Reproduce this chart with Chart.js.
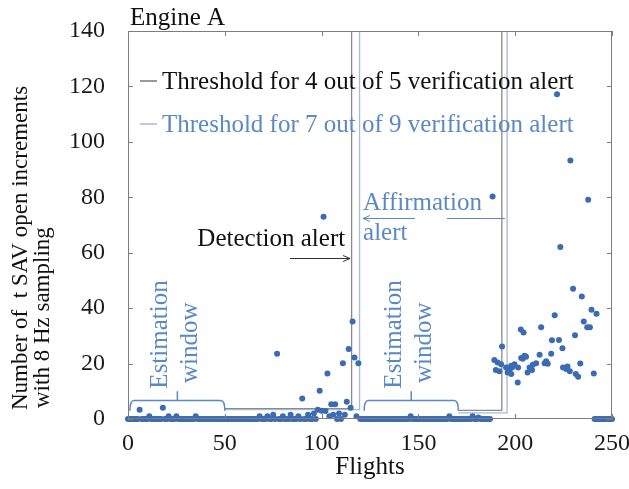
<!DOCTYPE html>
<html>
<head>
<meta charset="utf-8">
<script src="https://cdn.jsdelivr.net/npm/chart.js@4.4.0/dist/chart.umd.min.js"></script>
<style>
html,body{margin:0;padding:0;background:#fff;}
#wrap{width:629px;height:489px;}
</style>
</head>
<body>
<div id="wrap"><canvas id="c" width="629" height="489"></canvas></div>
<script>
// ---------------- data ----------------
const xAxisTitle = 'Flights';
const yAxisTitleLines = ['Number of  t SAV open increments', 'with 8 Hz sampling'];
const panelTitle = 'Engine A';
const xTickStep = 50;
const yTickStep = 20;
const xRange = [0, 250];
const yRange = [0, 140];

// counts for flights 0..187 (index = flight number)
const earlyCounts = [
  0,0,0,0,0,0,3.3,0,0,0,  0,1,0,0,0,0,0,0,4.1,0,
  0,1,0,0,0,1,0,0,0,0,    0,0,0,0,0,1,0,0,0,0,
  0,0,0,0,0,0,0,0,0,0,    0,0,0,0,0,0,0,0,0,0,
  0,0,0,0,0,0,0,0,1,0,    0,0,1,0,0,1.5,0,23.5,0,0,
  1,0,0,0,1.5,0,0,0,1,0,  7.4,0,0,1.5,0,0,2,0,3.3,10.2,
  3,73,2.9,16.4,1,5.3,1.5,5.3,0,2,  0,20.1,1.5,6.2,25.3,4.1,35.2,22.2,1,20.1,
  0,0,0,0,0,0,0,0,0,0,    0,0,0,0,0,0,0,0,0,0,
  0,0,0,0,0,0,1,0,0,0,    0,0,0,0,0,0,0,0,0,0,
  0,0,0,0,0,0,1,0,0,0,    0,0,0,0,0,0,0,0,1,0,
  0,0.5,0,0,0,0,0,0
];
// scattered points after the second estimation window
const clusterFlights = [188.3,189.2,190.0,190.9,191.8,192.7,193.2,195.3,196.1,197.0,
  197.9,198.0,198.4,199.6,201.3,201.5,202.9,203.1,203.9,204.3,
  204.8,205.6,206.4,207.4,208.7,209.1,210.8,212.6,213.4,215.2,
  216.0,216.8,218.6,219.0,220.4,221.6,222.6,223.3,224.4,224.7,
  226.4,227.0,228.2,228.5,229.9,230.9,231.3,232.5,233.6,234.4,
  235.4,237.2,237.7,238.6,239.4,240.6,242.0];
const clusterCounts = [80.3,21.3,17.7,20.4,17.2,19.8,26.2,18.6,16.8,17.7,
  19.2,16.2,18.6,19.8,13.2,18.6,32.3,22.0,21.7,31.2,
  22.8,22.5,16.8,18.6,17.7,19.6,20.1,23.2,33.1,20.1,
  20.8,19.9,23.5,28.4,37.4,117.2,28.5,62.1,25.5,18.6,
  18.0,18.9,17.2,93.3,47.0,30.2,16.2,15.2,20.0,44.2,
  35.2,33.1,79.1,33.1,39.4,16.4,38.0];
const lateFlights = [241,242,243,244,245,246,247,248,249,250];
const lateCounts  = [0,0,0,0,0,0,0,0,0,0];

// alert thresholds (flight, level); null level = break between windows
const thr45Flights = [50, 115.5, 115.5, 150, 170.6, 193.1, 193.1];
const thr45Levels  = [3.7, 3.7, 140, null, 3.1, 3.1, 140];
const thr79Flights = [50, 119.6, 119.6, 150, 170.6, 195.8, 195.8];
const thr79Levels  = [3.4, 3.4, 140, null, 2.2, 2.2, 140];

// estimation windows (start flight, end flight)
const estimationWindows = [[1, 50], [122, 170.6]];
const detectionFlight = 115.5;
const affirmationFlight = 119.6;
const affirmationEndFlight = 194.7;

const legendLabels = ['Threshold for 4 out of 5 verification alert', 'Threshold for 7 out of 9 verification alert'];

// ---------------- styling ----------------
const SERIF = '"Liberation Serif", "Times New Roman", Times, serif';
const C_POINT = '#3b6bb2';
const C_BLUE_TXT = '#5a89c4';
const C_GRAY_LINE = '#8a8a8a';
const C_BLUE_LINE = '#a9bad3';
const C_FRAME = '#7d7d7d';

const points = [];
earlyCounts.forEach((v, i) => points.push({x: i, y: v}));
clusterFlights.forEach((f, i) => points.push({x: f, y: clusterCounts[i]}));
lateFlights.forEach((f, i) => points.push({x: f, y: lateCounts[i]}));

const mk = (fs, ls) => fs.map((f, i) => ({x: f, y: ls[i]}));

function hArrow(ctx, x1, x2, y, head) {
  ctx.beginPath(); ctx.moveTo(x1, y); ctx.lineTo(x2, y); ctx.stroke();
  if (head) {
    const d = x2 > x1 ? -1 : 1;
    ctx.beginPath();
    ctx.moveTo(x2 + d * 7, y - 3); ctx.lineTo(x2, y); ctx.lineTo(x2 + d * 7, y + 3);
    ctx.stroke();
  }
}

const decor = {
  id: 'decor',
  afterDatasetsDraw(chart) {
    const {ctx, chartArea: a, scales: {x, y}} = chart;
    ctx.save();
    // frame
    ctx.strokeStyle = C_FRAME; ctx.lineWidth = 1;
    ctx.strokeRect(a.left + 0.5, a.top + 0.5, a.right - a.left - 1, a.bottom - a.top - 1);
    // inward ticks
    ctx.beginPath();
    for (let v = xRange[0]; v <= xRange[1]; v += xTickStep) {
      const px = Math.round(x.getPixelForValue(v)) + 0.5;
      ctx.moveTo(px, a.bottom); ctx.lineTo(px, a.bottom - 5);
      ctx.moveTo(px, a.top); ctx.lineTo(px, a.top + 5);
    }
    for (let v = yRange[0]; v <= yRange[1]; v += yTickStep) {
      const py = Math.round(y.getPixelForValue(v)) + 0.5;
      ctx.moveTo(a.left, py); ctx.lineTo(a.left + 5, py);
      ctx.moveTo(a.right, py); ctx.lineTo(a.right - 5, py);
    }
    ctx.stroke();

    // estimation window braces + rotated labels
    ctx.strokeStyle = C_BLUE_TXT; ctx.lineWidth = 1.5;
    estimationWindows.forEach(([s, e]) => {
      const x1 = x.getPixelForValue(s), x2 = x.getPixelForValue(e);
      const yt = y.getPixelForValue(6.7), yb = y.getPixelForValue(3.0), yu = y.getPixelForValue(10);
      const xm = (x1 + x2) / 2;
      ctx.beginPath();
      ctx.moveTo(x1, yb);
      ctx.quadraticCurveTo(x1, yt, x1 + 4, yt);
      ctx.lineTo(x2 - 4, yt);
      ctx.quadraticCurveTo(x2, yt, x2, yb);
      ctx.moveTo(xm, yt); ctx.lineTo(xm, yu);
      ctx.stroke();
      ctx.fillStyle = C_BLUE_TXT;
      ctx.font = '25px ' + SERIF;
      ctx.textAlign = 'center'; ctx.textBaseline = 'alphabetic';
      [['Estimation', -5.2, 30.5], ['window', 10.3, 27.5]].forEach(([t, dx, yc]) => {
        const bx = x.getPixelForValue((s + e) / 2 + dx);
        ctx.save(); ctx.translate(bx, y.getPixelForValue(yc)); ctx.rotate(-Math.PI / 2);
        ctx.fillText(t, 0, 0); ctx.restore();
      });
    });

    // detection alert annotation
    ctx.fillStyle = '#111'; ctx.font = '25px ' + SERIF;
    ctx.textAlign = 'center'; ctx.textBaseline = 'alphabetic';
    ctx.fillText('Detection alert', x.getPixelForValue(74), y.getPixelForValue(62.3));
    ctx.strokeStyle = '#333'; ctx.lineWidth = 1;
    hArrow(ctx, x.getPixelForValue(83.7), x.getPixelForValue(detectionFlight - 0.8), Math.round(y.getPixelForValue(58)) + 0.5, true);

    // affirmation alert annotation
    ctx.fillStyle = C_BLUE_TXT; ctx.textAlign = 'left';
    const ax = x.getPixelForValue(affirmationFlight + 1.8);
    ctx.fillText('Affirmation', ax, y.getPixelForValue(75.3));
    ctx.fillText('alert', ax, y.getPixelForValue(64.5));
    ctx.strokeStyle = C_BLUE_TXT;
    const ay = Math.round(y.getPixelForValue(72.4)) + 0.5;
    hArrow(ctx, x.getPixelForValue(148.2), x.getPixelForValue(affirmationFlight + 1.8), ay, true);
    hArrow(ctx, x.getPixelForValue(164.8), x.getPixelForValue(affirmationEndFlight), ay, false);

    // legend (inside plot)
    ctx.font = '25px ' + SERIF; ctx.textAlign = 'left'; ctx.textBaseline = 'alphabetic';
    const lg = [[legendLabels[0], '#111', '#555', 88.5], [legendLabels[1], C_BLUE_TXT, '#8eaad2', 131.5]];
    lg.forEach(([t, tc, lc, by]) => {
      ctx.strokeStyle = lc; ctx.lineWidth = 1.2;
      ctx.beginPath(); ctx.moveTo(140, by - 7.5); ctx.lineTo(157, by - 7.5); ctx.stroke();
      ctx.fillStyle = tc; ctx.fillText(t, 162, by);
    });

    // panel title
    ctx.fillStyle = '#111'; ctx.font = '25px ' + SERIF;
    ctx.fillText(panelTitle, 130, 25);

    // y-axis title (two lines, start-aligned at bottom)
    ctx.font = '23px ' + SERIF; ctx.fillStyle = '#111';
    [[yAxisTitleLines[0], 27, 410], [yAxisTitleLines[1], 49, 408]].forEach(([t, bx, sy]) => {
      ctx.save(); ctx.translate(bx, sy); ctx.rotate(-Math.PI / 2);
      ctx.textAlign = 'left'; ctx.fillText(t, 0, 0); ctx.restore();
    });
    ctx.restore();
  }
};

new Chart(document.getElementById('c'), {
  type: 'scatter',
  data: {
    datasets: [
      {label: 'increments', data: points, order: 0, pointRadius: 3, pointHoverRadius: 3,
       pointBackgroundColor: C_POINT, pointBorderWidth: 0, showLine: false, clip: false},
      {label: legendLabels[0], data: mk(thr45Flights, thr45Levels), order: 2, showLine: true,
       spanGaps: false, pointRadius: 0, borderColor: C_GRAY_LINE, borderWidth: 1.3, tension: 0},
      {label: legendLabels[1], data: mk(thr79Flights, thr79Levels), order: 1, showLine: true,
       spanGaps: false, pointRadius: 0, borderColor: C_BLUE_LINE, borderWidth: 1.3, tension: 0}
    ]
  },
  options: {
    responsive: false, animation: false, devicePixelRatio: 1,
    layout: {padding: {left: 0, right: 17, top: 31, bottom: 0}},
    plugins: {legend: {display: false}, tooltip: {enabled: false}},
    scales: {
      x: {
        type: 'linear', min: xRange[0], max: xRange[1],
        afterFit: s => { s.height = 70; s.paddingLeft = 0; s.paddingRight = 0; },
        grid: {display: false}, border: {display: false},
        ticks: {stepSize: xTickStep, padding: 2, color: '#1a1a1a', font: {family: SERIF, size: 24}, maxRotation: 0},
        title: {display: true, text: xAxisTitle, color: '#111', font: {family: SERIF, size: 25}, padding: {top: 0, bottom: 7}}
      },
      y: {
        min: yRange[0], max: yRange[1],
        afterFit: s => { s.width = 128; s.paddingTop = 0; s.paddingBottom = 0; },
        grid: {display: false}, border: {display: false},
        ticks: {stepSize: yTickStep, padding: 15, color: '#1a1a1a', font: {family: SERIF, size: 24}}
      }
    }
  },
  plugins: [decor]
});
</script>
</body>
</html>
